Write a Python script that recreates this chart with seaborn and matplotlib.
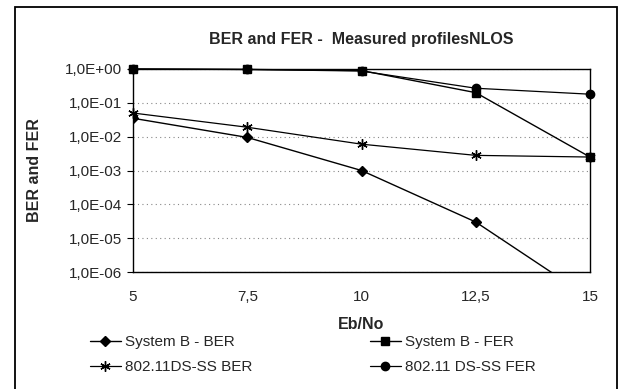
import matplotlib
matplotlib.use("Agg")
import matplotlib.pyplot as plt
import seaborn as sns
import pandas as pd
from matplotlib.patches import Rectangle
from matplotlib.ticker import FixedLocator, FixedFormatter, NullLocator

sns.set_theme(style="white")
plt.rcParams['font.family'] = ['Liberation Sans', 'DejaVu Sans']

eb_no = [5, 7.5, 10, 12.5, 15]
sysb_ber = [0.035, 0.0095, 0.001, 3.0e-5, 1.7e-7]
sysb_fer = [1.0, 0.97, 0.9, 0.2, 0.0025]
dsss_ber = [0.05, 0.019, 0.006, 0.0028, 0.0025]
dsss_fer = [1.0, 0.97, 0.87, 0.27, 0.18]
series_names = ["System B - BER", "System B - FER", "802.11DS-SS BER", "802.11 DS-SS FER"]
y_ticks = [1e0, 1e-1, 1e-2, 1e-3, 1e-4, 1e-5, 1e-6]
y_tick_labels = ["1,0E+00", "1,0E-01", "1,0E-02", "1,0E-03", "1,0E-04", "1,0E-05", "1,0E-06"]
x_tick_labels = ["5", "7,5", "10", "12,5", "15"]

W, H = 625, 389
fig = plt.figure(figsize=(6.25, 3.89), dpi=100)
ax = fig.add_axes([133 / W, 1 - 272 / H, (590 - 133) / W, (272 - 69) / H])

styles = [
    (sysb_ber, "D", 5.5, 1.0),
    (sysb_fer, "s", 6, 1.0),
    (dsss_ber, (6, 2, 0), 7.5, 0.9),
    (dsss_fer, "o", 6, 0.9),
]
for name, (vals, mk, ms, lw) in zip(series_names, styles):
    df = pd.DataFrame({"x": eb_no, "y": vals})
    sns.lineplot(data=df, x="x", y="y", ax=ax, color="black", marker=mk,
                 markersize=ms, linewidth=lw, markeredgecolor="black",
                 markeredgewidth=1.0, label=name, legend=False)
lines = ax.get_lines()
for i in (1, 2, 3):
    lines[i].set_clip_on(False)

ax.set_yscale("log")
ax.set_ylim(1e-6, 1)
ax.set_xlim(5, 15)
ax.yaxis.set_major_locator(FixedLocator(y_ticks))
ax.yaxis.set_major_formatter(FixedFormatter(y_tick_labels))
ax.yaxis.set_minor_locator(NullLocator())
ax.set_xticks(eb_no)
ax.set_xticklabels(x_tick_labels)
ax.tick_params(axis="y", length=4, width=0.8, color="black", left=True, labelsize=11, pad=4)
ax.tick_params(axis="x", length=0, labelsize=11, pad=13)
ax.grid(axis="y", linestyle=(0, (1, 3)), color="#888888", linewidth=0.8)
ax.grid(axis="x", visible=False)
for s in ax.spines.values():
    s.set_color("black")
    s.set_linewidth(1.0)

ax.set_title("BER and FER -  Measured profilesNLOS", fontsize=11.5, fontweight="bold", pad=18)
ax.set_xlabel("Eb/No", fontsize=11.5, fontweight="bold", labelpad=9)
ax.set_ylabel("BER and FER", fontsize=11.5, fontweight="bold")
ax.yaxis.set_label_coords((42 - 133) / 457, 0.5)

h = lines
common = dict(loc="upper left", frameon=False, fontsize=11, handlelength=2.0,
              handletextpad=0.3, labelspacing=0.75, borderaxespad=0, borderpad=0)
leg1 = fig.legend([h[0], h[2]], [series_names[0], series_names[2]],
                  bbox_to_anchor=(90 / W, 1 - 335 / H), **common)
leg2 = fig.legend([h[1], h[3]], [series_names[1], series_names[3]],
                  bbox_to_anchor=(370 / W, 1 - 335 / H), **common)

fig.patches.append(Rectangle((15 / W, -0.02), (617 - 15) / W, 1.02 - 7 / H,
                             transform=fig.transFigure, fill=False,
                             edgecolor="black", linewidth=1.3))

fig.savefig("out.png", dpi=100)
